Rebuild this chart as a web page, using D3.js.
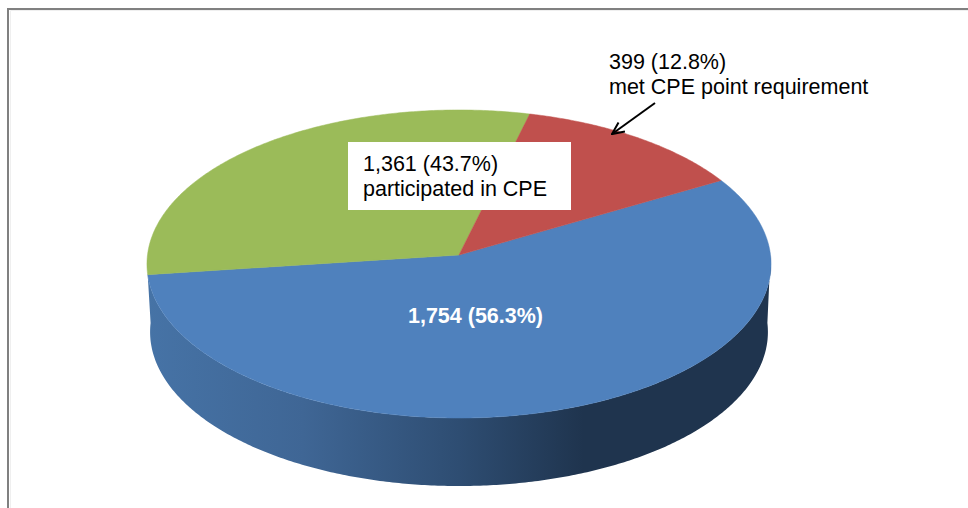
<!DOCTYPE html>
<html lang="en">

<head>
    <meta charset="UTF-8"/>
    <title>CPE participation</title>
    <script src="https://d3js.org/d3.v7.min.js"></script>
    <style>
        html, body { margin: 0; padding: 0; background: #fff; overflow: hidden; }
        svg { display: block; }
        text { font-family: "Liberation Sans", Arial, sans-serif; }
    </style>
</head>

<body>
    <script>
        var w = 968;
        var h = 508;

        // slices, clockwise from the red/blue boundary
        var categories = ["did not participate", "participated, below requirement", "met CPE point requirement"];
        var values = [1754, 962, 399];
        var colors = ["#4F81BD", "#9BBB59", "#C0504D"];

        var blueLabel = ["1,754 (56.3%)"];
        var boxLabel = ["1,361 (43.7%)", "participated in CPE"];
        var calloutLabel = ["399 (12.8%)", "met CPE point requirement"];

        // pie geometry, the disc is tilted so the centre sits above the middle of the ellipse
        var cx = 459;
        var cy = 255;
        var a = 311.5;
        var b = 153.5;
        var k = -0.0584;
        var depth = 68;
        var startAngle = 60 * Math.PI / 180;

        function project(angle, dy, shrink) {
            var u = Math.sin(angle);
            var v = -Math.cos(angle);
            var p = 1 + k * v;
            return [cx + shrink * a * u / p, cy + dy + b * v / p];
        }

        function rim(from, to, dy, shrink) {
            var n = Math.max(2, Math.ceil(Math.abs(to - from) / 0.01));
            return d3.range(n + 1).map(function(i) {
                return project(from + (to - from) * i / n, dy, shrink);
            });
        }

        var line = d3.line();

        var pie = d3.pie()
                    .sort(null)
                    .startAngle(startAngle)
                    .endAngle(startAngle + 2 * Math.PI);

        var slices = pie(values);

        var svg = d3.select("body")
                    .append("svg")
                    .attr("width", w)
                    .attr("height", h);

        var defs = svg.append("defs");

        var wallGradient = defs.append("linearGradient")
                               .attr("id", "wall")
                               .attr("gradientUnits", "userSpaceOnUse")
                               .attr("x1", cx - a)
                               .attr("x2", cx + a)
                               .attr("y1", 0)
                               .attr("y2", 0);

        wallGradient.selectAll("stop")
                    .data([[0, "#4673A6"], [0.25, "#3F6695"], [0.5, "#2E4D72"], [0.7, "#1F344E"], [1, "#1F344E"]])
                    .enter()
                    .append("stop")
                    .attr("offset", function(d) { return d[0]; })
                    .attr("stop-color", function(d) { return d[1]; });

        var marker = defs.append("marker")
                         .attr("id", "arrow")
                         .attr("viewBox", "0 0 14 14")
                         .attr("refX", 13)
                         .attr("refY", 7)
                         .attr("markerWidth", 14)
                         .attr("markerHeight", 14)
                         .attr("markerUnits", "userSpaceOnUse")
                         .attr("orient", "auto");

        marker.append("path")
              .attr("d", "M1,1.5 L13,7 L1,12.5")
              .attr("fill", "none")
              .attr("stroke", "#000")
              .attr("stroke-width", 2);

        // frame, only top and left edges are in the crop
        svg.append("path")
           .attr("d", "M10.5," + h + " V10.5 H" + w)
           .attr("fill", "none")
           .attr("stroke", "#EFEFEF")
           .attr("stroke-width", 1);

        svg.append("path")
           .attr("d", "M8," + h + " V9 H" + w)
           .attr("fill", "none")
           .attr("stroke", "#808080")
           .attr("stroke-width", 2);

        // side wall: bottom rim left to right, up the right edge, back along the top rim
        var wallPoints = rim(3 * Math.PI / 2, Math.PI / 2, depth, 0.99)
                            .concat(rim(Math.PI / 2, slices[0].endAngle, 0, 1));

        svg.append("path")
           .attr("d", line(wallPoints) + "Z")
           .attr("fill", "url(#wall)");

        // top faces
        svg.selectAll("path.slice")
           .data(slices)
           .enter()
           .append("path")
           .attr("class", "slice")
           .attr("d", function(d) {
               return line([[cx, cy]].concat(rim(d.startAngle, d.endAngle, 0, 1))) + "Z";
           })
           .attr("fill", function(d, i) { return colors[i]; })
           .attr("stroke", function(d, i) { return colors[i]; })
           .attr("stroke-width", 0.5);

        // white box behind the green label
        svg.append("rect")
           .attr("x", 348)
           .attr("y", 142)
           .attr("width", 223)
           .attr("height", 68)
           .attr("fill", "#fff");

        svg.selectAll("text.box")
           .data(boxLabel)
           .enter()
           .append("text")
           .attr("class", "box")
           .attr("x", 363)
           .attr("y", function(d, i) { return 171 + i * 25; })
           .attr("font-size", "21.5px")
           .attr("fill", "#000")
           .text(function(d) { return d; });

        svg.selectAll("text.callout")
           .data(calloutLabel)
           .enter()
           .append("text")
           .attr("class", "callout")
           .attr("x", 609)
           .attr("y", function(d, i) { return 69 + i * 25; })
           .attr("font-size", "21.5px")
           .attr("fill", "#000")
           .text(function(d) { return d; });

        svg.selectAll("text.blue")
           .data(blueLabel)
           .enter()
           .append("text")
           .attr("class", "blue")
           .attr("x", 475.5)
           .attr("y", 323)
           .attr("text-anchor", "middle")
           .attr("font-size", "21.5px")
           .attr("font-weight", "bold")
           .attr("fill", "#fff")
           .text(function(d) { return d; });

        svg.append("line")
           .attr("x1", 655)
           .attr("y1", 103)
           .attr("x2", 612)
           .attr("y2", 134)
           .attr("stroke", "#000")
           .attr("stroke-width", 2)
           .attr("marker-end", "url(#arrow)");
    </script>
</body>
</html>
